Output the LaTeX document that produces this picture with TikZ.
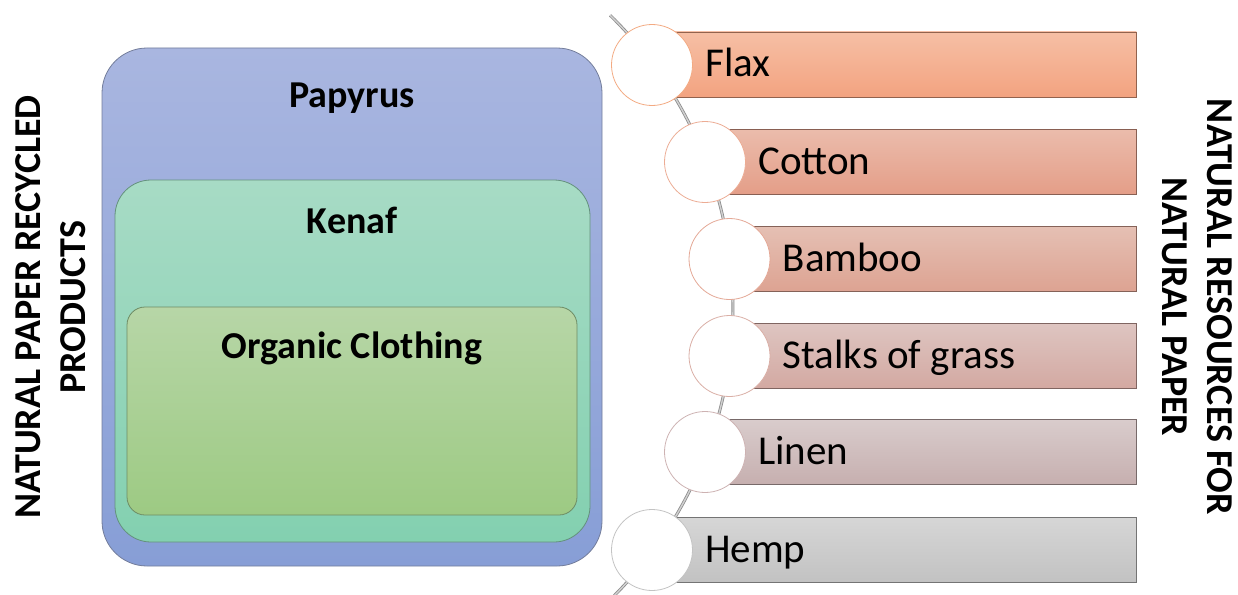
\documentclass[tikz,border=0pt]{standalone}
\usepackage{fontspec}
\setmainfont{Carlito}
\definecolor{papT}{RGB}{169,182,224}
\definecolor{papB}{RGB}{135,158,214}
\definecolor{papD}{RGB}{115,125,155}
\definecolor{kenT}{RGB}{167,219,197}
\definecolor{kenB}{RGB}{131,208,176}
\definecolor{kenD}{RGB}{100,145,125}
\definecolor{orgT}{RGB}{183,214,167}
\definecolor{orgB}{RGB}{157,202,131}
\definecolor{orgD}{RGB}{110,140,100}
\definecolor{flaxT}{RGB}{246,191,165}
\definecolor{flaxB}{RGB}{243,163,128}
\definecolor{flaxC}{RGB}{243,170,130}
\definecolor{cotT}{RGB}{235,188,172}
\definecolor{cotB}{RGB}{228,158,136}
\definecolor{cotC}{RGB}{236,172,148}
\definecolor{bamT}{RGB}{229,192,180}
\definecolor{bamB}{RGB}{221,163,146}
\definecolor{bamC}{RGB}{228,168,150}
\definecolor{staT}{RGB}{222,197,193}
\definecolor{staB}{RGB}{211,169,162}
\definecolor{staC}{RGB}{218,175,166}
\definecolor{linT}{RGB}{217,204,204}
\definecolor{linB}{RGB}{198,175,175}
\definecolor{linC}{RGB}{205,178,178}
\definecolor{hemT}{RGB}{214,214,214}
\definecolor{hemB}{RGB}{194,194,194}
\definecolor{hemC}{RGB}{195,195,195}
\tikzset{
  pbox/.style n args={4}{draw=#3, line width=0.8pt, inner sep=0pt,
    top color=#1, bottom color=#2, rounded corners=#4},
  bar/.style 2 args={draw=#2!60!black, line width=0.7pt, top color=#1,
    bottom color=#2, minimum height=65pt, inner sep=0pt, anchor=west},
  dot/.style={draw=#1, fill=white, line width=0.8pt, circle,
    minimum size=81pt, inner sep=0pt},
  itemtext/.style={anchor=base west, font=\fontsize{41}{49}\selectfont, inner sep=0pt},
  titletext/.style={anchor=base, font=\bfseries\fontsize{38}{45}\selectfont, inner sep=0pt},
  sidetext/.style={font=\bfseries\fontsize{38}{45}\selectfont, align=center, inner sep=0pt},
  spine/.style={draw=black!45, double=black!18, double distance=1.4pt, line width=0.8pt},
}
\begin{document}
\begin{tikzpicture}[x=1pt,y=-1pt]
\useasboundingbox (0,0) rectangle (1238,594);
% nested boxes
\node[pbox={papT}{papB}{papD}{45pt}, minimum width=500pt, minimum height=518pt] (papyrus) at (352,307) {};
\node[pbox={kenT}{kenB}{kenD}{36pt}, minimum width=475pt, minimum height=362pt] (kenaf) at (352.5,361) {};
\node[pbox={orgT}{orgB}{orgD}{18pt}, minimum width=450pt, minimum height=208pt] (organic) at (352,411) {};
\node[titletext] (papyrusT) at (352,107) {Papyrus};
\node[titletext] (kenafT) at (352,233) {Kenaf};
\node[titletext] (organicT) at (352,358) {Organic Clothing};
% spine
\draw[spine] plot[domain=-45.6:45.4, samples=90] ({324+409*cos(\x)},{307.5+409*sin(\x)});
% bars
\node[bar={flaxT}{flaxB}, minimum width=484pt] (b1) at (652,64.5) {};
\node[bar={cotT}{cotB}, minimum width=431pt] (b2) at (705,161.5) {};
\node[bar={bamT}{bamB}, minimum width=406.5pt] (b3) at (729.5,258.5) {};
\node[bar={staT}{staB}, minimum width=406.5pt] (b4) at (729.5,355.5) {};
\node[bar={linT}{linB}, minimum width=431pt] (b5) at (705,452) {};
\node[bar={hemT}{hemB}, minimum width=484pt] (b6) at (652,550) {};
% circles
\node[dot=flaxC] (c1) at (652,65) {};
\node[dot=cotC] (c2) at (705,162) {};
\node[dot=bamC] (c3) at (729.5,259) {};
\node[dot=staC] (c4) at (729.5,356) {};
\node[dot=linC] (c5) at (705,452) {};
\node[dot=hemC] (c6) at (652,550) {};
% item labels
\node[itemtext] (t1) at (705,77) {Flax};
\node[itemtext] (t2) at (758,174) {Cotton};
\node[itemtext] (t3) at (782.5,271) {Bamboo};
\node[itemtext] (t4) at (782.5,368) {Stalks of grass};
\node[itemtext] (t5) at (758,464) {Linen};
\node[itemtext] (t6) at (705,562) {Hemp};
% side titles
\node[sidetext, rotate=90] (leftT) at (51,307) {NATURAL PAPER RECYCLED\\PRODUCTS};
\node[sidetext, rotate=-90] (rightT) at (1197,307) {NATURAL RESOURCES FOR\\NATURAL PAPER};
\end{tikzpicture}
\end{document}
